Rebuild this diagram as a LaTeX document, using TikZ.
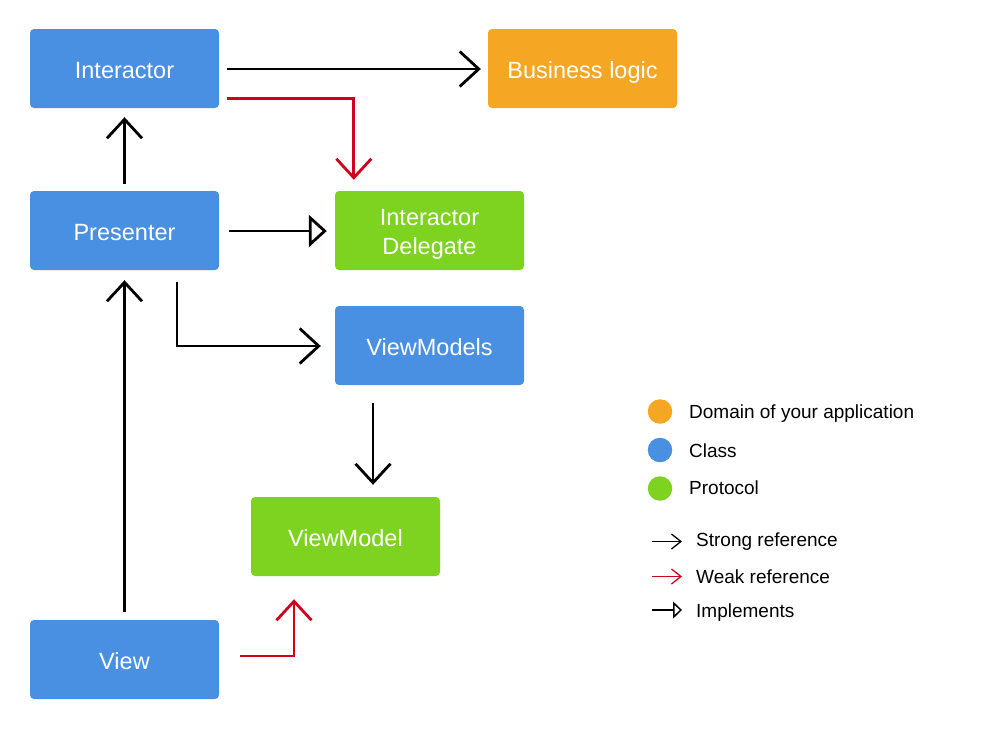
\documentclass[tikz,border=0pt]{standalone}
\usepackage{fontspec}
\setmainfont{Liberation Sans}
\usetikzlibrary{arrows.meta,calc}
\definecolor{cblue}{HTML}{4A90E2}
\definecolor{corange}{HTML}{F5A623}
\definecolor{cgreen}{HTML}{7ED321}
\definecolor{cred}{HTML}{D0021B}
\tikzset{
  box/.style={rounded corners=4pt, minimum width=189pt, minimum height=79pt, inner sep=0pt,
    text=white, align=center, font=\fontsize{23.5}{29}\selectfont},
  onebox/.style={box, text height=20pt, text depth=0pt},
  strong/.style={line width=2.8pt, -{Straight Barb[length=19pt,width=35pt,line width=2.8pt]}},
  weak/.style={strong, draw=cred},
  impl/.style={line width=2.8pt, -{Triangle[open,length=18pt,width=32pt,line width=2.8pt]}},
  lstrong/.style={line width=1.3pt, -{Straight Barb[length=9.5pt,width=15pt,line width=1.3pt]}},
  lweak/.style={lstrong, draw=cred},
  limpl/.style={line width=1.5pt, -{Triangle[open,length=9pt,width=17pt,line width=1.5pt]}},
  dot/.style={circle, minimum size=24.5pt, inner sep=0pt},
  legtext/.style={anchor=base west, inner sep=0pt, font=\fontsize{19}{22}\selectfont}
}
\begin{document}
\begin{tikzpicture}[x=1pt,y=-1pt]
\useasboundingbox (0,0) rectangle (1000,740);
\node[onebox, fill=cblue] (int) at (124.5,68.5) {Interactor};
\node[onebox, fill=corange] (biz) at (582.5,68.5) {Business logic};
\node[onebox, fill=cblue] (pre) at (124.5,230.5) {Presenter};
\node[box, fill=cgreen] (del) at (429.5,230.5) {\rule{0pt}{23.5pt}Interactor\\Delegate};
\node[onebox, fill=cblue] (vms) at (429.5,345.5) {ViewModels};
\node[onebox, fill=cgreen] (vm) at (345.5,536.5) {ViewModel};
\node[onebox, fill=cblue] (view) at (124.5,659.5) {View};

\draw[strong] ($(int.east)+(8,0.5)$) -- ($(biz.west)+(-7,0.5)$);
\draw[weak] ($(int.east)+(8,30)$) -| ($(del.north west)+(19,-11)$);
\draw[strong] ($(pre.north)+(0,-7)$) -- ($(int.south)+(0,9)$);
\draw[impl] ($(pre.east)+(10,0.5)$) -- ($(del.west)+(-8,0.5)$);
\draw[strong] ($(pre.south)+(52.5,12)$) |- ($(vms.west)+(-14,0.5)$);
\draw[strong] ($(vms.south)+(-56.5,18)$) -- ($(vm.north)+(27.5,-12)$);
\draw[strong] ($(view.north)+(0,-8)$) -- ($(pre.south)+(0,10)$);
\draw[weak] ($(view.east)+(21,-3.5)$) -| ($(vm.south)+(-51.5,23)$);

\node[dot, fill=corange] (d1) at (660,411.5) {};
\node[dot, fill=cblue] (d2) at (660,450) {};
\node[dot, fill=cgreen] (d3) at (660,488.5) {};
\node[legtext] (t1) at (689,418.5) {Domain of your application};
\node[legtext] (t2) at (689,457) {Class};
\node[legtext] (t3) at (689,494.5) {Protocol};

\coordinate (a1s) at (652,541.5); \coordinate (a1e) at (682,541.5);
\coordinate (a2s) at (652,576.5); \coordinate (a2e) at (682,576.5);
\coordinate (a3s) at (652,610); \coordinate (a3e) at (682,610);
\draw[lstrong] (a1s) -- (a1e);
\draw[lweak] (a2s) -- (a2e);
\draw[limpl] (a3s) -- (a3e);
\node[legtext] (t4) at (696,546.5) {Strong reference};
\node[legtext] (t5) at (696,583) {Weak reference};
\node[legtext] (t6) at (696,617) {Implements};
\end{tikzpicture}
\end{document}
